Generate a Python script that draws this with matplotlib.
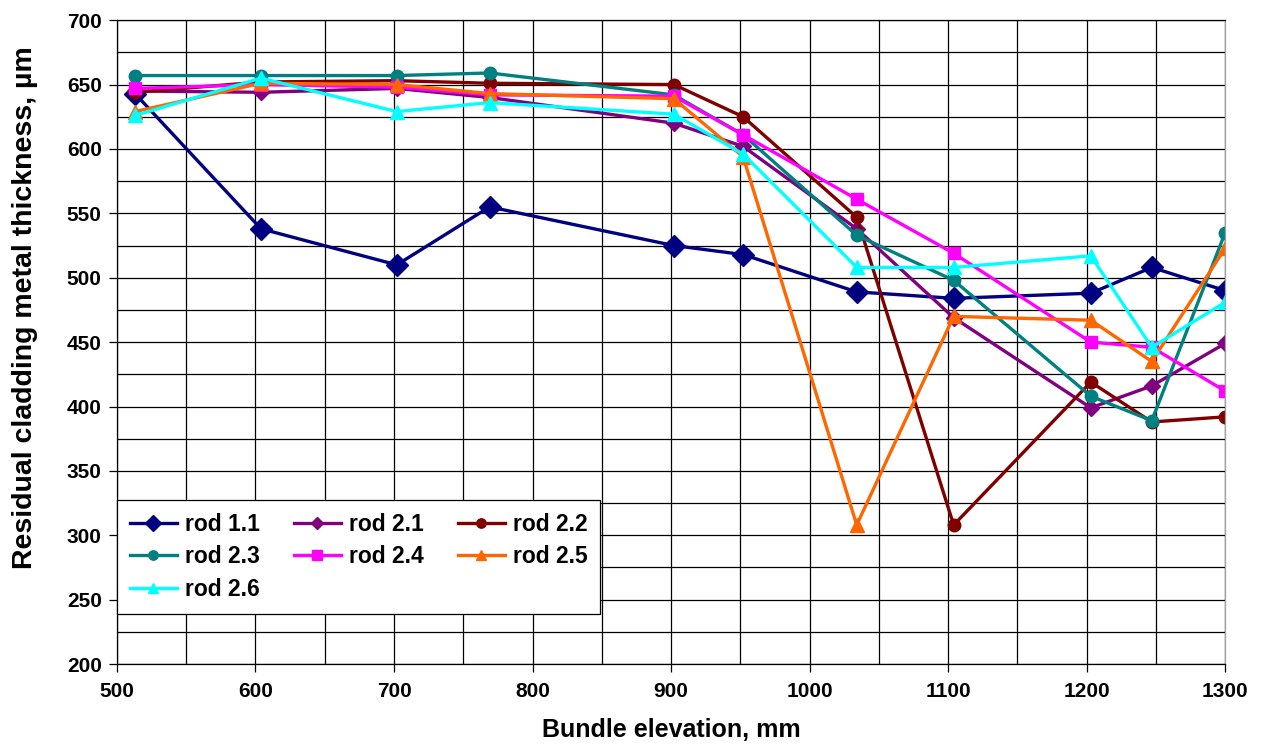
import matplotlib
matplotlib.use("Agg")
import matplotlib.pyplot as plt
from matplotlib.ticker import MultipleLocator

plt.rcParams['font.family'] = ['Liberation Sans', 'DejaVu Sans']

elevation = [513, 604, 702, 769, 902, 952, 1034, 1104, 1203, 1247, 1300]

rod_1_1 = [643, 538, 510, 555, 525, 518, 489, 484, 488, 508, 490]
rod_2_1 = [645, 644, 647, 640, 620, 602, 538, 469, 399, 416, 449]
rod_2_2 = [644, 652, 653, 651, 650, 625, 547, 308, 419, 388, 392]
rod_2_3 = [657, 657, 657, 659, 642, 611, 533, 498, 408, 389, 535]
rod_2_4 = [647, 650, 648, 642, 641, 611, 561, 519, 450, 446, 412]
rod_2_5 = [629, 651, 650, 643, 639, 594, 308, 470, 467, 435, 523]
rod_2_6 = [626, 655, 629, 636, 627, 596, 508, 508, 517, 446, 481]

labels = ["rod 1.1", "rod 2.1", "rod 2.2", "rod 2.3", "rod 2.4", "rod 2.5", "rod 2.6"]
series = [rod_1_1, rod_2_1, rod_2_2, rod_2_3, rod_2_4, rod_2_5, rod_2_6]
colors = ["#000080", "#800080", "#800000", "#008080", "#FF00FF", "#FF6600", "#00FFFF"]
markers = ["D", "D", "o", "o", "s", "^", "^"]
msizes = [11, 8, 9, 9, 9, 10, 10]

fig = plt.figure(figsize=(12.67, 7.47), dpi=100)
ax = fig.add_axes([0.0923, 0.111, 0.8747, 0.862])

handles = []
for y, lab, c, m, ms in zip(series, labels, colors, markers, msizes):
    h, = ax.plot(elevation, y, color=c, marker=m, markersize=ms, linewidth=2.4,
                 label=lab, markeredgecolor=c)
    handles.append(h)

ax.set_xlim(500, 1300)
ax.set_ylim(200, 700)
ax.xaxis.set_major_locator(MultipleLocator(100))
ax.xaxis.set_minor_locator(MultipleLocator(50))
ax.yaxis.set_major_locator(MultipleLocator(50))
ax.yaxis.set_minor_locator(MultipleLocator(25))
ax.grid(True, which='both', color='black', linewidth=0.9)
ax.set_axisbelow(True)

ax.tick_params(axis='both', which='major', direction='out', length=6, labelsize=15,
               width=0.9, pad=5)
ax.tick_params(axis='x', which='major', pad=7)
ax.tick_params(axis='both', which='minor', length=0)
for lab in ax.get_xticklabels() + ax.get_yticklabels():
    lab.set_fontweight('bold')

ax.spines['left'].set_color('black')
ax.spines['bottom'].set_color('black')
ax.spines['top'].set_color('black')
ax.spines['right'].set_color('#a0a0a0')
for s in ax.spines.values():
    s.set_linewidth(0.9)

ax.set_xlabel("Bundle elevation, mm", fontsize=18, fontweight='bold', labelpad=12)
ax.set_ylabel("Residual cladding metal thickness, µm", fontsize=20.5, fontweight='bold')
ax.yaxis.set_label_coords(-0.0715, 0.554)

# row-major legend order for 3 columns
order = [0, 3, 6, 1, 4, 2, 5]
leg = ax.legend([handles[i] for i in order], [labels[i] for i in order],
                loc='upper left', bbox_to_anchor=(0.0, 0.2546), ncol=3,
                frameon=True, fancybox=False, framealpha=1, edgecolor='black',
                prop={'weight': 'bold', 'size': 16.5}, borderaxespad=0,
                handlelength=2.05, columnspacing=1.5, handletextpad=0.35,
                labelspacing=0.42, markerscale=0.75, borderpad=0.55)
leg.get_frame().set_linewidth(0.9)

fig.savefig("out.png", dpi=100)
